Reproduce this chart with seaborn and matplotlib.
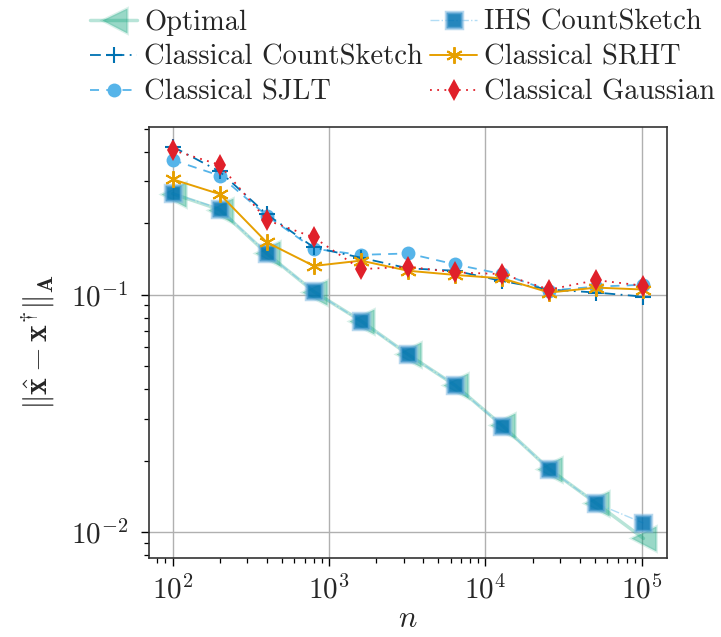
import matplotlib
matplotlib.use("Agg")
import matplotlib.pyplot as plt
from matplotlib.colors import to_rgba
import seaborn as sns
import pandas as pd

# problem sizes
n = [100, 200, 400, 800, 1600, 3200, 6400, 12800, 25600, 51200, 102400]

# error in the A-norm for each solver
optimal = [0.266, 0.228, 0.149, 0.103, 0.0775, 0.0560, 0.0415, 0.0281, 0.0184, 0.0132, 0.0094]
ihs_countsketch = [0.267, 0.230, 0.149, 0.1033, 0.0772, 0.0560, 0.0415, 0.0280, 0.0184, 0.0132, 0.0109]
classical_countsketch = [0.42, 0.33, 0.218, 0.158, 0.143, 0.129, 0.126, 0.114, 0.105, 0.102, 0.098]
classical_sjlt = [0.369, 0.317, 0.215, 0.156, 0.147, 0.149, 0.134, 0.122, 0.104, 0.108, 0.110]
classical_srht = [0.306, 0.265, 0.166, 0.132, 0.139, 0.126, 0.121, 0.117, 0.102, 0.107, 0.105]
classical_gaussian = [0.406, 0.352, 0.206, 0.174, 0.128, 0.131, 0.124, 0.122, 0.105, 0.115, 0.109]

labels = ["Optimal", "Classical CountSketch", "Classical SJLT",
          "IHS CountSketch", "Classical SRHT", "Classical Gaussian"]

sns.set_theme(style="ticks")
plt.rcParams.update({
    "font.family": "serif",
    "font.serif": ["cmr10"],
    "mathtext.fontset": "cm",
    "axes.formatter.use_mathtext": True,
    "axes.unicode_minus": False,
    "xtick.direction": "out",
    "ytick.direction": "out",
})

fig = plt.figure(figsize=(7.21, 6.37), dpi=100)
ax = fig.add_axes([149 / 721, 1 - 558 / 637, (667 - 149) / 721, (558 - 127) / 637])

GREEN = "#009E73"
BLUE = "#0072B2"
SKY = "#56B4E9"
ORANGE = "#E69F00"
RED = "#E0202A"

def draw(y, label, color, **kw):
    df = pd.DataFrame({"n": n, "err": y})
    sns.lineplot(data=df, x="n", y="err", ax=ax, label=label, color=color,
                 markeredgecolor=color, **kw)
    return ax.lines[-1]

h_opt = draw(optimal, labels[0], GREEN, marker="<", markersize=18, linewidth=2.5,
             linestyle="-")
h_opt.set_color(to_rgba(GREEN, 0.28))
h_opt.set_markerfacecolor(to_rgba(GREEN, 0.4))
h_opt.set_markeredgecolor(to_rgba(GREEN, 0.15))
h_opt.set_markeredgewidth(2)

h_ihs = draw(ihs_countsketch, labels[3], BLUE, marker="s", markersize=11, linewidth=1.0,
             linestyle="-.")
h_ihs.set_color(to_rgba(SKY, 0.45))
h_ihs.set_markerfacecolor(to_rgba(BLUE, 0.85))
h_ihs.set_markeredgecolor(to_rgba("#7fb8e0", 0.55))
h_ihs.set_markeredgewidth(2.5)

h_sjlt = draw(classical_sjlt, labels[2], SKY, marker="o", markersize=10, linewidth=1.3,
              linestyle=(0, (5, 4)), markeredgewidth=0)

h_cs = draw(classical_countsketch, labels[1], BLUE, marker="+", markersize=11, linewidth=1.3,
            linestyle=(0, (6, 3, 1, 3)), markeredgewidth=1.5)

h_srht = draw(classical_srht, labels[4], ORANGE, marker=(6, 2, 0), markersize=12,
              linewidth=1.4, linestyle="-", markeredgewidth=1.4)

h_gau = draw(classical_gaussian, labels[5], RED, marker="d", markersize=11, linewidth=1.3,
             linestyle=(0, (1, 3)), markeredgewidth=0)

ax.set_xscale("log")
ax.set_yscale("log")
ax.margins(x=0.05, y=0.05)

ax.grid(True, which="major", color="#b0b0b0", linewidth=1.0)
ax.grid(False, which="minor")
ax.tick_params(which="major", length=6, width=1.0, labelsize=21, color="black")
ax.tick_params(axis="y", which="major", pad=9)
ax.tick_params(axis="x", which="major", pad=6)
ax.tick_params(which="minor", length=3.5, width=0.9, color="black")
for s in ax.spines.values():
    s.set_color("#333333")
    s.set_linewidth(1.2)

ax.set_xlabel(r"$n$", fontsize=22, labelpad=1)
ax.set_ylabel(r"$\|\hat{\mathbf{x}}-\mathbf{x}^{\dagger}\|_{\mathbf{A}}$", fontsize=23,
              labelpad=10)

handles = [h_opt, h_cs, h_sjlt, h_ihs, h_srht, h_gau]
ax.legend(handles, labels, loc="lower center", bbox_to_anchor=(0.49, 1.03),
          ncol=2, frameon=False, fontsize=20.5, handlelength=1.65,
          handletextpad=0.25, columnspacing=0.25, labelspacing=0.3,
          borderaxespad=0.2, borderpad=0.1)

fig.savefig("out.png", dpi=100)
